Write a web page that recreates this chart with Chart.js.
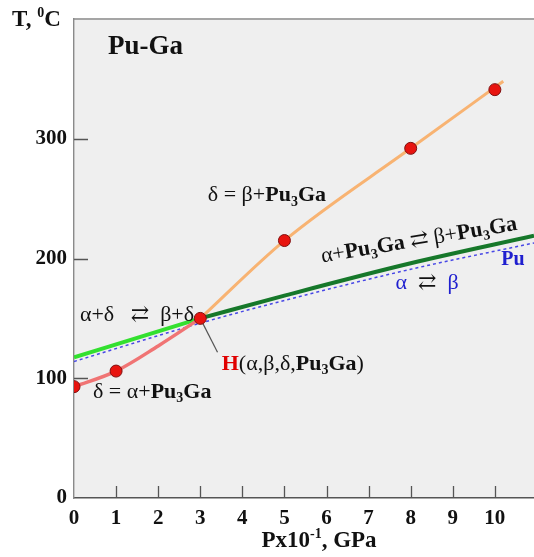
<!DOCTYPE html>
<html>
<head>
<meta charset="utf-8">
<script src="https://cdn.jsdelivr.net/npm/chart.js@4.4.1/dist/chart.umd.min.js"></script>
<style>
  html, body { margin: 0; padding: 0; background: #fff; }
  #wrap { width: 534px; height: 557px; }
</style>
</head>
<body>
<div id="wrap"><canvas id="phaseChart" width="534" height="557"></canvas></div>
<script>
// axis ticks
const xTicks = [0, 1, 2, 3, 4, 5, 6, 7, 8, 9, 10];
const yTicks = [0, 100, 200, 300];

// measured transition points (P x10^-1 GPa, T °C)
const dotP = [0, 1, 3, 5, 8, 10];
const dotT = [93, 106, 150, 215, 292, 341];

// delta = beta + Pu3Ga
const dbP = [3, 5, 8, 10.2];
const dbT = [150, 215, 292, 348];

// delta = alpha + Pu3Ga
const daP = [0, 1, 2, 3];
const daT = [93, 106, 127, 150];

// alpha+delta <-> beta+delta
const adP = [0, 3];
const adT = [117.5, 150];

// alpha+Pu3Ga <-> beta+Pu3Ga
const apP = [3, 5, 8, 10.93];
const apT = [150, 169, 196, 219];

// pure Pu alpha <-> beta
const puP = [0, 3, 5, 8, 10.93];
const puT = [114, 146, 165, 191, 213];

const pts = (xs, ys) => xs.map((x, i) => ({ x: x, y: ys[i] }));

const SERIF = '"Liberation Serif", "DejaVu Serif", serif';
const BLUE = '#1f1fcf';

// labels drawn on the plot (data coordinates)
const notes = [
    { x: 0.81, y: 376.7, size: 27, align: 'left', segs: [{ t: 'Pu-Ga', b: 1 }] },
    { x: 3.18, y: 252.5, size: 22, align: 'left',
      segs: [{ t: 'δ = β+' }, { t: 'Pu', b: 1 }, { t: '3', b: 1, sub: 1 }, { t: 'Ga', b: 1 }] },
    { x: 8.2, y: 215, size: 22, align: 'center', rot: -9.5,
      segs: [{ t: 'α+' }, { t: 'Pu', b: 1 }, { t: '3', b: 1, sub: 1 }, { t: 'Ga', b: 1 },
             { t: ' ⇄ ' }, { t: 'β+' }, { t: 'Pu', b: 1 }, { t: '3', b: 1, sub: 1 }, { t: 'Ga', b: 1 }] },
    { x: 10.43, y: 199, size: 20, align: 'center', segs: [{ t: 'Pu', b: 1, c: BLUE }] },
    { x: 8.39, y: 179, size: 22, align: 'center',
      segs: [{ t: 'α  ', c: BLUE }, { t: '⇄' }, { t: '  β', c: BLUE }] },
    { x: 0.14, y: 152.5, size: 22, align: 'left', segs: [{ t: 'α+δ   ⇄  β+δ' }] },
    { x: 3.51, y: 111.7, size: 22, align: 'left',
      segs: [{ t: 'H', b: 1, c: '#e00000' }, { t: '(α,β,δ,' }, { t: 'Pu', b: 1 },
             { t: '3', b: 1, sub: 1 }, { t: 'Ga', b: 1 }, { t: ')' }] },
    { x: 0.45, y: 88.3, size: 22, align: 'left',
      segs: [{ t: 'δ = α+' }, { t: 'Pu', b: 1 }, { t: '3', b: 1, sub: 1 }, { t: 'Ga', b: 1 }] }
];

function segFont(s, size) {
    const sz = (s.sub || s.sup) ? Math.round(size * 0.62) : size;
    return (s.b ? 'bold ' : '') + sz + 'px ' + SERIF;
}

// draw mixed bold / subscript / superscript text
function drawRich(ctx, segs, x, y, size, align) {
    let total = 0;
    const widths = segs.map(s => {
        ctx.font = segFont(s, size);
        const w = ctx.measureText(s.t).width;
        total += w;
        return w;
    });
    let cx = align === 'center' ? x - total / 2 : (align === 'right' ? x - total : x);
    ctx.textAlign = 'left';
    ctx.textBaseline = 'middle';
    segs.forEach((s, i) => {
        ctx.font = segFont(s, size);
        ctx.fillStyle = s.c || '#111';
        let dy = 0;
        if (s.sub) dy = size * 0.3;
        if (s.sup) dy = -size * 0.3;
        ctx.fillText(s.t, cx, y + dy);
        cx += widths[i];
    });
}

const framePlugin = {
    id: 'frame',
    beforeDraw(chart) {
        const { ctx, chartArea: a } = chart;
        ctx.save();
        ctx.fillStyle = '#efefef';
        ctx.fillRect(a.left, a.top, a.right - a.left, a.bottom - a.top);
        ctx.strokeStyle = '#a5a5a5';
        ctx.lineWidth = 2;
        ctx.beginPath();
        ctx.moveTo(a.left, a.top);
        ctx.lineTo(a.right, a.top);
        ctx.stroke();
        ctx.restore();
    },
    beforeDatasetsDraw(chart) {
        const { ctx, chartArea: a, scales: { x, y } } = chart;
        ctx.save();
        // inward tick marks
        ctx.strokeStyle = '#555';
        ctx.lineWidth = 1.3;
        ctx.beginPath();
        xTicks.forEach(v => {
            if (v === 0) return;
            const px = Math.round(x.getPixelForValue(v)) + 0.5;
            ctx.moveTo(px, a.bottom);
            ctx.lineTo(px, a.bottom - 12);
        });
        yTicks.forEach(v => {
            if (v === 0) return;
            const py = Math.round(y.getPixelForValue(v)) + 0.5;
            ctx.moveTo(a.left, py);
            ctx.lineTo(a.left + 14, py);
        });
        ctx.stroke();
        // leader line from the invariant point to its label
        ctx.strokeStyle = '#555';
        ctx.lineWidth = 1.2;
        ctx.beginPath();
        ctx.moveTo(x.getPixelForValue(3), y.getPixelForValue(150));
        ctx.lineTo(x.getPixelForValue(3.41), y.getPixelForValue(121.7));
        ctx.stroke();
        ctx.restore();
    },
    afterDraw(chart) {
        const { ctx, chartArea: a, scales: { x, y } } = chart;
        ctx.save();
        notes.forEach(n => {
            const px = x.getPixelForValue(n.x);
            const py = y.getPixelForValue(n.y);
            if (n.rot) {
                ctx.save();
                ctx.translate(px, py);
                ctx.rotate(n.rot * Math.PI / 180);
                drawRich(ctx, n.segs, 0, 0, n.size, n.align);
                ctx.restore();
            } else {
                drawRich(ctx, n.segs, px, py, n.size, n.align);
            }
        });
        // axis titles
        drawRich(ctx, [{ t: 'T, ', b: 1 }, { t: '0', b: 1, sup: 1 }, { t: 'C', b: 1 }],
                 a.left - 62, a.top + 1, 23, 'left');
        drawRich(ctx, [{ t: 'Px10', b: 1 }, { t: '-1', b: 1, sup: 1 }, { t: ', GPa', b: 1 }],
                 319, a.bottom + 43, 23, 'center');
        ctx.restore();
    }
};

const lineSet = (label, xs, ys, color, width, extra) => Object.assign({
    label: label,
    data: pts(xs, ys),
    showLine: true,
    borderColor: color,
    borderWidth: width,
    pointRadius: 0,
    cubicInterpolationMode: 'monotone',
    order: 2
}, extra || {});

new Chart(document.getElementById('phaseChart'), {
    type: 'scatter',
    data: {
        datasets: [
            {
                label: 'points',
                data: pts(dotP, dotT),
                pointRadius: 6,
                pointBackgroundColor: '#e8140f',
                pointBorderColor: '#801010',
                pointBorderWidth: 1,
                order: 0
            },
            lineSet('δ = β+Pu3Ga', dbP, dbT, '#f8b372', 3),
            lineSet('δ = α+Pu3Ga', daP, daT, '#f07474', 3.5),
            lineSet('α+δ ⇄ β+δ', adP, adT, '#33e02f', 4),
            lineSet('Pu α ⇄ β', puP, puT, '#4848e6', 1.5, { borderDash: [3, 3], order: 3 }),
            lineSet('α+Pu3Ga ⇄ β+Pu3Ga', apP, apT, '#16782a', 4, { order: 1 })
        ]
    },
    options: {
        responsive: false,
        animation: false,
        devicePixelRatio: 1,
        layout: { autoPadding: false, padding: { top: 19, right: 0, left: 0, bottom: 0 } },
        plugins: {
            legend: { display: false },
            tooltip: { enabled: false }
        },
        scales: {
            x: {
                type: 'linear',
                min: 0,
                max: 10.93,
                grid: { display: false, drawTicks: false, tickLength: 0 },
                border: { display: true, color: '#555', width: 1.6 },
                afterBuildTicks: s => { s.ticks = xTicks.map(v => ({ value: v })); },
                afterFit: s => { s.height = 59; s.paddingLeft = 0; s.paddingRight = 0; },
                ticks: {
                    padding: 8,
                    color: '#111',
                    maxRotation: 0,
                    font: { family: SERIF, size: 21, weight: 'bold' }
                }
            },
            y: {
                type: 'linear',
                min: 0,
                max: 400,
                grid: { display: false, drawTicks: false, tickLength: 0 },
                border: { display: true, color: '#8a8a8a', width: 1.4 },
                afterBuildTicks: s => { s.ticks = yTicks.map(v => ({ value: v })); },
                afterFit: s => { s.width = 74; s.paddingTop = 0; s.paddingBottom = 0; },
                ticks: {
                    padding: 7,
                    color: '#111',
                    font: { family: SERIF, size: 21, weight: 'bold' }
                }
            }
        }
    },
    plugins: [framePlugin]
});
</script>
</body>
</html>
